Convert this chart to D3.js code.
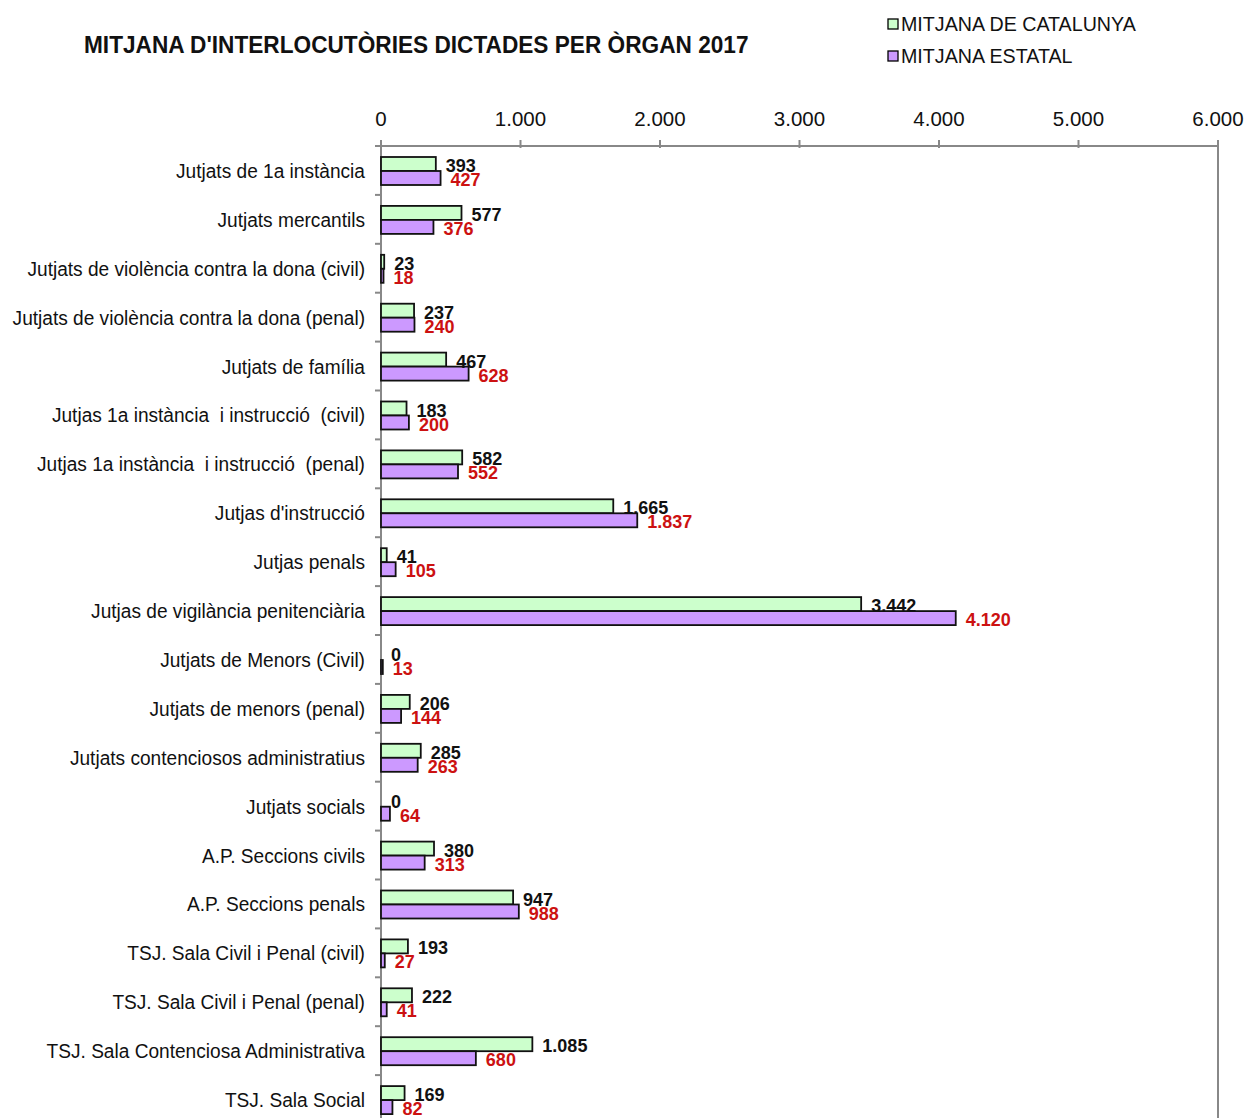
<!DOCTYPE html>
<html>
<head>
<meta charset="utf-8">
<script src="https://cdn.jsdelivr.net/npm/d3@7"></script>
<style>
  body { margin: 0; background: #fff; }
  svg { display: block; }
  text { font-family: "Liberation Sans", Arial, sans-serif; }
</style>
</head>
<body>
<svg id="chart" width="1250" height="1118"></svg>
<script>
// categories (organs) and the two series
var organs = [
  "Jutjats de 1a instància",
  "Jutjats mercantils",
  "Jutjats de violència contra la dona (civil)",
  "Jutjats de violència contra la dona (penal)",
  "Jutjats de família",
  "Jutjas 1a instància  i instrucció  (civil)",
  "Jutjas 1a instància  i instrucció  (penal)",
  "Jutjas d'instrucció",
  "Jutjas penals",
  "Jutjas de vigilància penitenciària",
  "Jutjats de Menors (Civil)",
  "Jutjats de menors (penal)",
  "Jutjats contenciosos administratius",
  "Jutjats socials",
  "A.P. Seccions civils",
  "A.P. Seccions penals",
  "TSJ. Sala Civil i Penal (civil)",
  "TSJ. Sala Civil i Penal (penal)",
  "TSJ. Sala Contenciosa Administrativa",
  "TSJ. Sala Social"
];
var catalunya = [393, 577, 23, 237, 467, 183, 582, 1665, 41, 3442, 0, 206, 285, 0, 380, 947, 193, 222, 1085, 169];
var estatal   = [427, 376, 18, 240, 628, 200, 552, 1837, 105, 4120, 13, 144, 263, 64, 313, 988, 27, 41, 680, 82];
var xTicks = [0, 1000, 2000, 3000, 4000, 5000, 6000];
var seriesNames = ["MITJANA DE CATALUNYA", "MITJANA ESTATAL"];
var title = "MITJANA D'INTERLOCUTÒRIES DICTADES PER ÒRGAN 2017";

var green = "#ccffcc", purple = "#cc99ff", red = "#cc1111";

var locale = d3.formatLocale({decimal: ",", thousands: ".", grouping: [3], currency: ["", " €"]});
var fmt = locale.format(",d");

var svg = d3.select("#chart");

//Set up plot area
var plotLeft = 381, plotRight = 1218, plotTop = 146, band = 48.9;

var x = d3.scaleLinear().domain([0, 6000]).range([plotLeft, plotRight]);
var y = d3.scaleBand().domain(organs).range([plotTop, plotTop + band * organs.length]).paddingInner(0).paddingOuter(0);

//condensed text helper (reference uses a narrow face)
function squeeze(sel, sx, ax){
  sel.attr("transform", "translate(" + ax + ",0) scale(" + sx + ",1) translate(" + (-ax) + ",0)");
}

//title
svg.append("text")
  .attr("x", 84).attr("y", 53)
  .style("font-size", "23px").style("font-weight", "bold").attr("fill", "#111")
  .call(squeeze, 0.985, 84)
  .text(title);

//legend
var legend = svg.append("g");
seriesNames.forEach(function(name, i){
  var ly = 24 + i * 32;
  legend.append("rect")
    .attr("x", 888).attr("y", ly - 5).attr("width", 10).attr("height", 10)
    .attr("fill", i == 0 ? green : purple).attr("stroke", "#000").attr("stroke-width", 1.3);
  legend.append("text")
    .attr("x", 901).attr("y", ly + 7)
    .style("font-size", "20px").attr("fill", "#111")
    .call(squeeze, 0.983, 901)
    .text(name);
});

//top axis
var axisG = svg.append("g");
axisG.append("line").attr("x1", plotLeft).attr("x2", plotRight).attr("y1", plotTop).attr("y2", plotTop)
  .attr("stroke", "#888").attr("stroke-width", 2);
axisG.selectAll(".xtick").data(xTicks).enter().append("line")
  .attr("x1", function(d){ return x(d); }).attr("x2", function(d){ return x(d); })
  .attr("y1", plotTop - 6).attr("y2", plotTop + 2)
  .attr("stroke", "#888").attr("stroke-width", 2);
axisG.selectAll(".xlab").data(xTicks).enter().append("text")
  .attr("x", function(d){ return x(d); }).attr("y", 126)
  .attr("text-anchor", "middle")
  .style("font-size", "20.5px").attr("fill", "#111")
  .text(function(d){ return fmt(d); });

//right border
svg.append("line").attr("x1", plotRight).attr("x2", plotRight).attr("y1", plotTop - 6).attr("y2", 1118)
  .attr("stroke", "#888").attr("stroke-width", 2);

//left axis with ticks at band boundaries
svg.append("line").attr("x1", plotLeft).attr("x2", plotLeft).attr("y1", plotTop).attr("y2", 1118)
  .attr("stroke", "#888").attr("stroke-width", 2);
svg.selectAll(".ytick").data(d3.range(organs.length + 1)).enter().append("line")
  .attr("x1", plotLeft - 6).attr("x2", plotLeft)
  .attr("y1", function(i){ return plotTop + i * y.step(); })
  .attr("y2", function(i){ return plotTop + i * y.step(); })
  .attr("stroke", "#888").attr("stroke-width", 2);

//category labels
svg.selectAll(".cat").data(organs).enter().append("text")
  .attr("x", 365)
  .attr("y", function(d){ return y(d) + y.bandwidth() / 2 + 7.5; })
  .attr("text-anchor", "end")
  .style("font-size", "21px").attr("fill", "#111")
  .style("white-space", "pre")
  .call(squeeze, 0.91, 365)
  .text(function(d){ return d; });

//bars
var barH = 14;
var rows = organs.map(function(o, i){ return {organ: o, cat: catalunya[i], est: estatal[i]}; });
var g = svg.selectAll(".row").data(rows).enter().append("g");

g.append("rect")
  .attr("x", x(0))
  .attr("y", function(d){ return y(d.organ) + 11; })
  .attr("width", function(d){ return x(d.cat) - x(0); })
  .attr("height", barH)
  .attr("fill", green).attr("stroke", "#111").attr("stroke-width", 1.8);

g.append("rect")
  .attr("x", x(0))
  .attr("y", function(d){ return y(d.organ) + 11 + barH; })
  .attr("width", function(d){ return x(d.est) - x(0); })
  .attr("height", barH)
  .attr("fill", purple).attr("stroke", "#111").attr("stroke-width", 1.8);

//value labels
g.append("text")
  .attr("x", function(d){ return x(d.cat) + 10; })
  .attr("y", function(d){ return y(d.organ) + 11 + barH + 1; })
  .style("font-size", "18px").style("font-weight", "bold").attr("fill", "#111")
  .text(function(d){ return fmt(d.cat); });

g.append("text")
  .attr("x", function(d){ return x(d.est) + 10; })
  .attr("y", function(d){ return y(d.organ) + 11 + 2 * barH + 1; })
  .style("font-size", "18px").style("font-weight", "bold").attr("fill", red)
  .text(function(d){ return fmt(d.est); });
</script>
</body>
</html>
